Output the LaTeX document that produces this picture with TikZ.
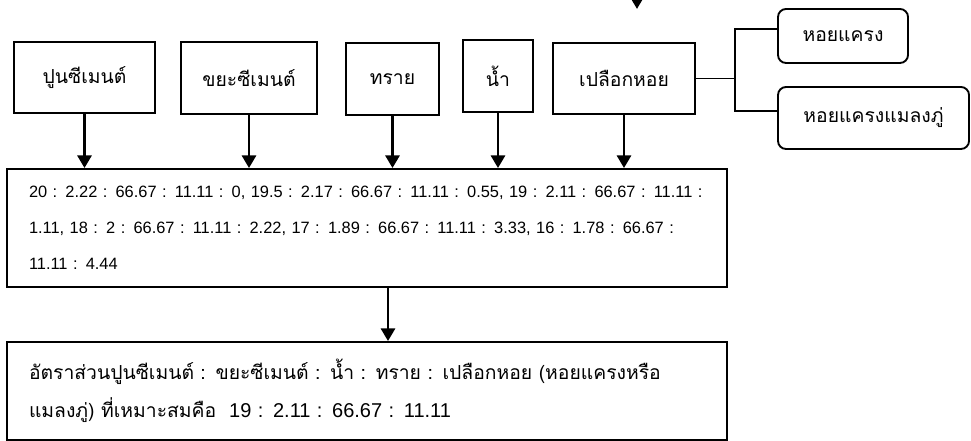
\documentclass[tikz,border=0pt]{standalone}
\usepackage{fontspec}
\newfontfamily\thaifont[Script=Thai]{Loma}
\newfontfamily\numfont{Liberation Sans}
\usetikzlibrary{arrows.meta}

\begin{document}
\begin{tikzpicture}[x=0.75pt,y=-0.75pt,
  box/.style={draw,line width=1.4pt,inner sep=0pt,font=\thaifont\fontsize{14.5}{17}\selectfont},
  shellbox/.style={box,rounded corners=6pt},
  feed/.style={-{Triangle[width=10.5pt,length=9.5pt]},line width=2.2pt},
  branch/.style={line width=1.4pt}]
\useasboundingbox[fill=white] (0,0) rectangle (971,441);
% raw materials
\node[box,minimum width=105.75pt,minimum height=53.25pt] (cement) at (84.5,77.5) {ปูนซีเมนต์};
\node[box,minimum width=102pt,minimum height=54pt] (waste) at (249,78) {ขยะซีเมนต์};
\node[box,minimum width=69.75pt,minimum height=54pt] (sand) at (392.5,79) {ทราย};
\node[box,minimum width=52.5pt,minimum height=54pt] (water) at (498,76) {น้ำ};
\node[box,minimum width=106.5pt,minimum height=53.25pt] (shell) at (624,78.5) {เปลือกหอย};
% kinds of shell
\node[shellbox,minimum width=97.5pt,minimum height=40.5pt] (blood) at (843,36) {หอยแครง};
\node[shellbox,minimum width=143.25pt,minimum height=46.5pt] (mussel) at (873.5,118) {หอยแครงแมลงภู่};
% mix ratios and result
\node[box,text width=507pt,inner xsep=16.5pt,align=left,minimum height=88.5pt,
  font=\numfont\fontsize{12.3}{27}\selectfont] (mix) at (367,228)
  {\mbox{20 : 2.22 : 66.67 : 11.11 : 0, 19.5 : 2.17 : 66.67 : 11.11 : 0.55, 19 : 2.11 : 66.67 : 11.11 :}\\
   \mbox{1.11, 18 : 2 : 66.67 : 11.11 : 2.22, 17 : 1.89 : 66.67 : 11.11 : 3.33, 16 : 1.78 : 66.67 :}\\
   11.11 : 4.44};
\node[box,text width=507pt,inner xsep=16.5pt,align=left,minimum height=73.5pt,
  font=\thaifont\fontsize{14.5}{28.5}\selectfont] (result) at (367,391)
  {อัตราส่วนปูนซีเมนต์ : ขยะซีเมนต์ : น้ำ : ทราย : เปลือกหอย (หอยแครงหรือ\\
   แมลงภู่) ที่เหมาะสมคือ~~{\numfont\fontsize{15}{28.5}\selectfont 19 : 2.11 : 66.67 : 11.11}};

\coordinate (top) at (637,-12);
\coordinate (fork) at (735,78.5);
\draw[feed] (top) -- (637,9);
\foreach \n in {cement,waste,sand,water,shell}
  \draw[feed] (\n.south) -- (\n.south |- mix.north);
\draw[feed] ([xshift=15.75pt]mix.south) -- ([xshift=15.75pt]result.north);
\draw[branch] (shell.east) -- (fork);
\draw[branch] ([yshift=5.25pt]blood.west) -| (fork) |- ([yshift=5.25pt]mussel.west);
\end{tikzpicture}
\end{document}
